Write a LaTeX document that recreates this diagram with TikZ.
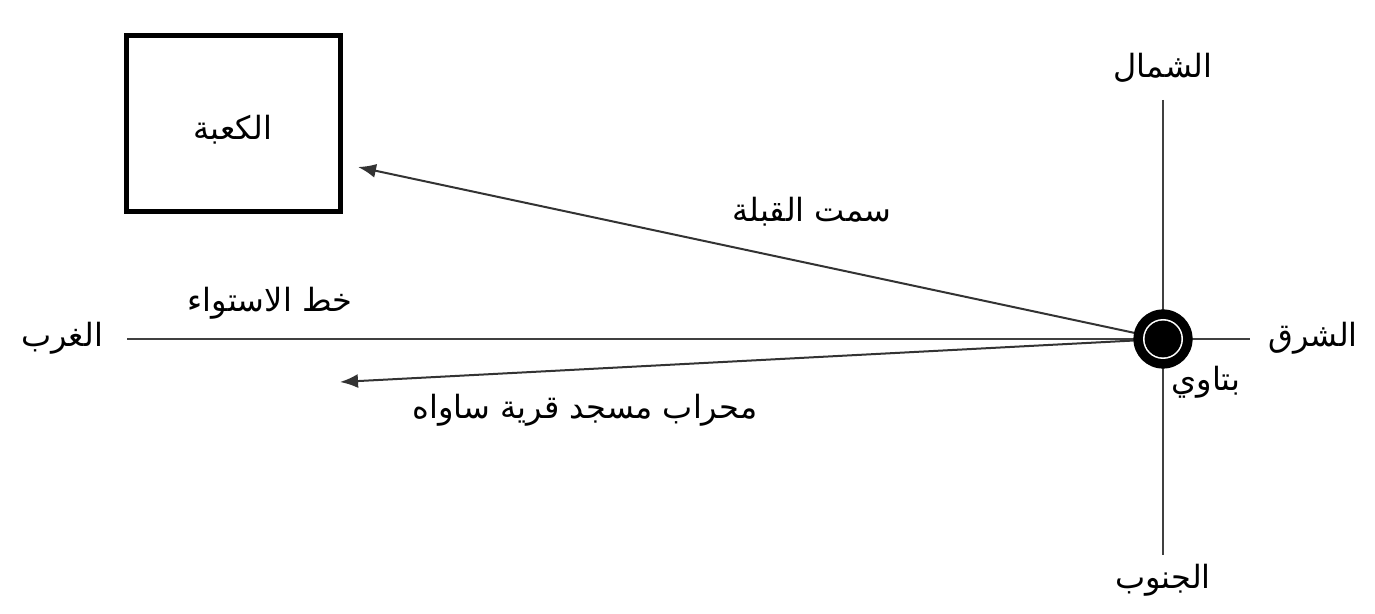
\documentclass[tikz,border=0pt]{standalone}
\usepackage{fontspec}
\newfontfamily\arabicfont[Script=Arabic]{DejaVu Sans}
\TeXXeTstate=1
\usetikzlibrary{arrows.meta}
\tikzset{
  lbl/.style={font=\arabicfont\fontsize{16}{18}\selectfont, inner sep=0pt},
  axis/.style={line width=1pt, draw=black!75},
  qarrow/.style={line width=1pt, draw=black!80, -{Latex[length=9pt,width=7pt]}},
}
\begin{document}
\begin{tikzpicture}[x=0.5pt,y=-0.5pt]
\useasboundingbox[fill=white] (0,0) rectangle (1375,614);
% center
\coordinate (c) at (1163,339);
\coordinate (n) at (1163,100);
\coordinate (s) at (1163,555);
\coordinate (e) at (1250,339);
\coordinate (w) at (127,339);
\draw[axis] (n) -- (s);
\draw[axis] (w) -- (e);
% Kaaba box
\node[draw, line width=2.6pt, minimum width=107pt, minimum height=88pt, inner sep=0pt] (kaaba) at (233.5,123.5) {};
\node[lbl] (kl) at (233,130) {\beginR الكعبة\endR};
\coordinate (qa) at (358,167);
\coordinate (ma) at (340,382);
\draw[qarrow] (c) -- (qa);
\draw[qarrow] (c) -- (ma);
% symbol
\fill[black] (c) circle (14.8pt);
\fill[white] (c) circle (10pt);
\fill[black] (c) circle (9.2pt);
% labels
\node[lbl] (north) at (1163,68) {\beginR الشمال\endR};
\node[lbl] (south) at (1163,580) {\beginR الجنوب\endR};
\node[lbl] (east) at (1313,338) {\beginR الشرق\endR};
\node[lbl] (west) at (62,338) {\beginR الغرب\endR};
\node[lbl] (qibla) at (812,212) {\beginR سمت القبلة\endR};
\node[lbl] (equator) at (270,303) {\beginR خط الاستواء\endR};
\node[lbl] (mihrab) at (585,410) {\beginR محراب مسجد قرية ساواه\endR};
\node[lbl] (batawi) at (1206,382) {\beginR بتاوي\endR};
\end{tikzpicture}
\end{document}
